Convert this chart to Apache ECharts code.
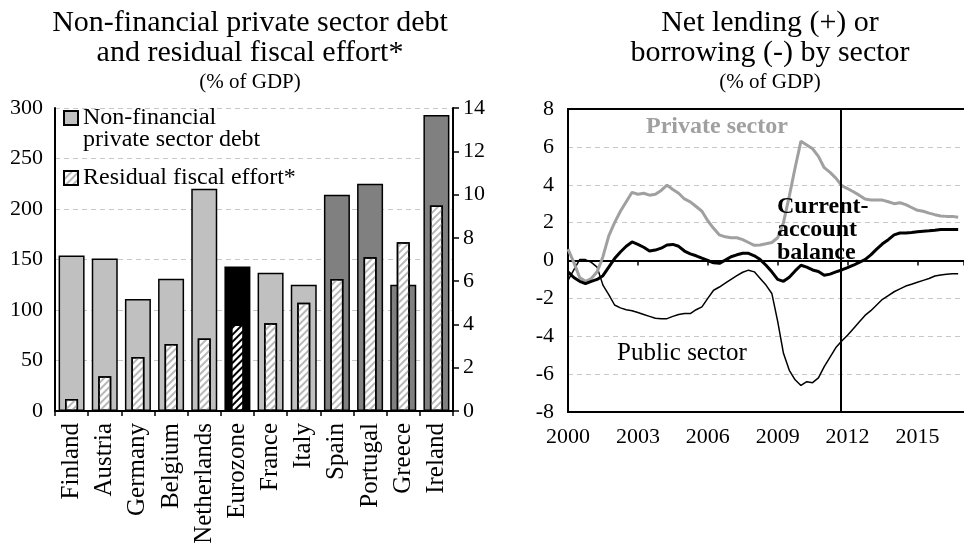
<!DOCTYPE html>
<html>
<head>
<meta charset="utf-8">
<script src="https://cdn.jsdelivr.net/npm/echarts@6/dist/echarts.min.js"></script>
<style>html,body{margin:0;padding:0;background:#fff}#c{width:964px;height:556px}</style>
</head>
<body>
<div id="c"></div>
<script>
// ---- Left chart data ----
const countries = ['Finland','Austria','Germany','Belgium','Netherlands','Eurozone','France','Italy','Spain','Portugal','Greece','Ireland'];
const privateDebt = [154, 151, 111, 131, 220, 143, 137, 125, 214, 225, 125, 293];
const fiscalEffort = [0.55, 1.6, 2.5, 3.1, 3.35, 4.0, 4.05, 5.0, 6.1, 7.1, 7.8, 9.5];
const peripheryCountries = ['Spain','Portugal','Greece','Ireland'];
const aggregateName = 'Eurozone';
const leftTicks = [0, 50, 100, 150, 200, 250, 300];
const rightTicks = [0, 2, 4, 6, 8, 10, 12, 14];

// ---- Right chart data (quarterly, starting 2000Q1) ----
const startYear = 2000;
const privateSector = [0.6,-0.1,-0.9,-1.1,-0.95,-0.6,0.2,1.3,2.0,2.6,3.1,3.6,3.5,3.55,3.45,3.5,3.7,3.98,3.75,3.55,3.25,3.1,2.85,2.6,2.1,1.7,1.35,1.25,1.2,1.2,1.1,0.95,0.8,0.82,0.88,0.95,1.2,2.0,3.4,4.9,6.3,6.1,5.9,5.5,4.9,4.65,4.35,3.95,3.8,3.63,3.45,3.25,3.19,3.19,3.19,3.1,3.0,3.05,2.95,2.8,2.65,2.6,2.5,2.42,2.35,2.33,2.33,2.28];
const currentAccount = [-0.6,-0.9,-1.1,-1.22,-1.1,-1.0,-0.8,-0.35,0.1,0.45,0.75,0.98,0.85,0.7,0.5,0.55,0.65,0.82,0.85,0.75,0.5,0.35,0.25,0.12,0.0,-0.12,-0.15,0.02,0.2,0.3,0.38,0.38,0.25,0.05,-0.25,-0.6,-1.0,-1.1,-0.88,-0.55,-0.25,-0.35,-0.5,-0.58,-0.78,-0.72,-0.6,-0.5,-0.38,-0.25,-0.1,0.05,0.3,0.6,0.88,1.1,1.35,1.45,1.45,1.48,1.52,1.55,1.57,1.6,1.64,1.64,1.64,1.64];
const publicSector = [-1.05,-0.5,0.05,0.05,-0.1,-0.35,-1.3,-1.8,-2.35,-2.5,-2.6,-2.65,-2.75,-2.85,-2.95,-3.05,-3.07,-3.07,-2.95,-2.85,-2.8,-2.8,-2.6,-2.45,-2.0,-1.57,-1.4,-1.2,-1.0,-0.8,-0.62,-0.51,-0.6,-0.95,-1.3,-1.74,-3.2,-4.9,-5.8,-6.3,-6.6,-6.4,-6.45,-6.2,-5.6,-5.1,-4.6,-4.25,-3.95,-3.6,-3.25,-2.9,-2.65,-2.35,-2.05,-1.85,-1.65,-1.5,-1.35,-1.25,-1.15,-1.05,-0.95,-0.82,-0.76,-0.72,-0.7,-0.7];
const yearTicks = [2000, 2003, 2006, 2009, 2012, 2015];
const forecastStart = 2011.7;

const F = 'Liberation Serif';
const toPairs = arr => arr.map((v, i) => [startYear + i * 0.25, v]);

const debtItems = privateDebt.map((v, i) => {
  const name = countries[i];
  let color = '#c0c0c0';
  if (peripheryCountries.indexOf(name) >= 0) color = '#808080';
  if (name === aggregateName) color = '#000000';
  return { value: v, itemStyle: { color: color } };
});
const hatch = (c) => ({ symbol: 'rect', symbolSize: 1, dashArrayX: [1, 0], dashArrayY: [2, 3], rotation: -Math.PI / 4, color: c });
const fiscalItems = fiscalEffort.map((v, i) => {
  const isAgg = countries[i] === aggregateName;
  return { value: v, itemStyle: { color: '#ffffff', decal: hatch(isAgg ? '#000000' : '#b8b8b8') } };
});

const chart = echarts.init(document.getElementById('c'), null, { renderer: 'canvas' });
const axisNum = { fontFamily: F, fontSize: 22, color: '#000' };
const dashed = { show: true, lineStyle: { color: '#c8c8c8', type: [5, 4], width: 1 } };
const legendRich = { s: { fontSize: 10, lineHeight: 22 }, a: { fontFamily: F, fontSize: 24, lineHeight: 22, color: '#000' } };

chart.setOption({
  animation: false,
  backgroundColor: '#fff',
  title: [
    { left: 245, top: 3, textAlign: 'center', text: 'Non-financial private sector debt\nand residual fiscal effort*', subtext: '(% of GDP)', itemGap: 3,
      textStyle: { fontFamily: F, fontWeight: 'normal', fontSize: 30, lineHeight: 30, color: '#000' },
      subtextStyle: { fontFamily: F, fontSize: 21, lineHeight: 22, color: '#000' } },
    { left: 765, top: 3, textAlign: 'center', text: 'Net lending (+) or\nborrowing (-) by sector', subtext: '(% of GDP)', itemGap: 3,
      textStyle: { fontFamily: F, fontWeight: 'normal', fontSize: 30, lineHeight: 30, color: '#000' },
      subtextStyle: { fontFamily: F, fontSize: 21, lineHeight: 22, color: '#000' } }
  ],
  legend: [
    { data: ['Non-financial\nprivate sector debt'], left: 63, top: 91, padding: 0, itemWidth: 14, itemHeight: 14, itemGap: 0, icon: 'rect', selectedMode: false,
      formatter: name => '{s| }\n' + name.split('\n').map(l => '{a|' + l + '}').join('\n'),
      textStyle: { rich: legendRich } },
    { data: ['Residual fiscal effort*'], left: 63, top: 166, padding: 0, itemWidth: 14, itemHeight: 14, icon: 'rect', selectedMode: false,
      formatter: name => '{a|' + name + '}',
      textStyle: { rich: legendRich } }
  ],
  grid: [
    { left: 55, right: 511, top: 108, bottom: 145 },
    { left: 568, right: 0, top: 109, bottom: 144 }
  ],
  xAxis: [
    { gridIndex: 0, type: 'category', data: countries, position: 'bottom',
      axisLine: { lineStyle: { color: '#000', width: 2 } },
      axisTick: { show: true, length: 5, lineStyle: { color: '#000', width: 1.5 } },
      axisLabel: { interval: 0, hideOverlap: false, rotate: 90, margin: 12, fontFamily: F, fontSize: 25, color: '#000' } },
    { gridIndex: 0, type: 'category', data: countries, position: 'top', show: false },
    { gridIndex: 1, type: 'value', min: 2000, max: 2017, interval: 3, position: 'bottom',
      axisLine: { onZero: false, lineStyle: { color: '#000', width: 2 } }, axisTick: { show: false },
      axisLabel: Object.assign({ margin: 14, showMaxLabel: false, formatter: v => yearTicks.indexOf(v) >= 0 ? String(v) : '' }, axisNum), splitLine: { show: false } },
    { gridIndex: 1, type: 'value', min: 2000, max: 2017, interval: 3, position: 'top',
      axisLine: { onZero: false, lineStyle: { color: '#000', width: 2 } }, axisTick: { show: false }, axisLabel: { show: false }, splitLine: { show: false } },
    { gridIndex: 1, type: 'value', min: 2000, max: 2017, interval: 3, position: 'bottom',
      axisLine: { onZero: true, lineStyle: { color: '#000', width: 2 } },
      axisTick: { show: true, length: 5, lineStyle: { color: '#000', width: 1.5 } }, axisLabel: { show: false }, splitLine: { show: false } }
  ],
  yAxis: [
    { gridIndex: 0, type: 'value', min: leftTicks[0], max: leftTicks[leftTicks.length - 1], interval: 50, position: 'left',
      axisLine: { show: true, lineStyle: { color: '#000', width: 2 } }, axisTick: { show: false },
      axisLabel: Object.assign({ margin: 12 }, axisNum), splitLine: dashed },
    { gridIndex: 0, type: 'value', min: rightTicks[0], max: rightTicks[rightTicks.length - 1], interval: 2, position: 'right',
      axisLine: { show: true, lineStyle: { color: '#000', width: 2 } },
      axisTick: { show: true, length: 6, lineStyle: { color: '#000', width: 1.5 } },
      axisLabel: Object.assign({ margin: 10 }, axisNum), splitLine: { show: false } },
    { gridIndex: 1, type: 'value', min: -8, max: 8, interval: 2, position: 'left',
      axisLine: { show: true, onZero: false, lineStyle: { color: '#000', width: 2 } }, axisTick: { show: false },
      axisLabel: Object.assign({ margin: 14 }, axisNum), splitLine: dashed }
  ],
  series: [
    { name: 'Non-financial\nprivate sector debt', type: 'bar', xAxisIndex: 0, yAxisIndex: 0, barWidth: 26,
      itemStyle: { color: '#c0c0c0', borderColor: '#000', borderWidth: 1.5 }, data: debtItems, z: 2 },
    { name: 'Residual fiscal effort*', type: 'bar', xAxisIndex: 1, yAxisIndex: 1, barWidth: 13,
      itemStyle: { color: '#ffffff', borderColor: '#000', borderWidth: 1.5, decal: hatch('#b8b8b8') }, data: fiscalItems, z: 3 },
    { name: 'Public sector', type: 'line', xAxisIndex: 2, yAxisIndex: 2, data: toPairs(publicSector), showSymbol: false,
      lineStyle: { color: '#000', width: 1.5 }, itemStyle: { color: '#000' }, z: 3,
      markLine: { silent: true, symbol: 'none', label: { show: false }, lineStyle: { color: '#000', width: 2, type: 'solid' }, data: [{ xAxis: forecastStart }] } },
    { name: 'Private sector', type: 'line', xAxisIndex: 2, yAxisIndex: 2, data: toPairs(privateSector), showSymbol: false,
      lineStyle: { color: '#a0a0a0', width: 3 }, itemStyle: { color: '#a0a0a0' }, z: 4 },
    { name: 'Current-account balance', type: 'line', xAxisIndex: 2, yAxisIndex: 2, data: toPairs(currentAccount), showSymbol: false,
      lineStyle: { color: '#000', width: 3 }, itemStyle: { color: '#000' }, z: 5 }
  ],
  graphic: [
    { type: 'text', left: 646, top: 115, style: { text: 'Private sector', font: 'bold 24px "Liberation Serif"', fill: '#a0a0a0' }, z: 10 },
    { type: 'text', left: 777, top: 195, style: { text: 'Current-\naccount\nbalance', font: 'bold 24px "Liberation Serif"', fill: '#000', lineHeight: 23, align: 'center' }, z: 10 },
    { type: 'text', left: 617, top: 341, style: { text: 'Public sector', font: '25px "Liberation Serif"', fill: '#000' }, z: 10 }
  ]
});
</script>
</body>
</html>
